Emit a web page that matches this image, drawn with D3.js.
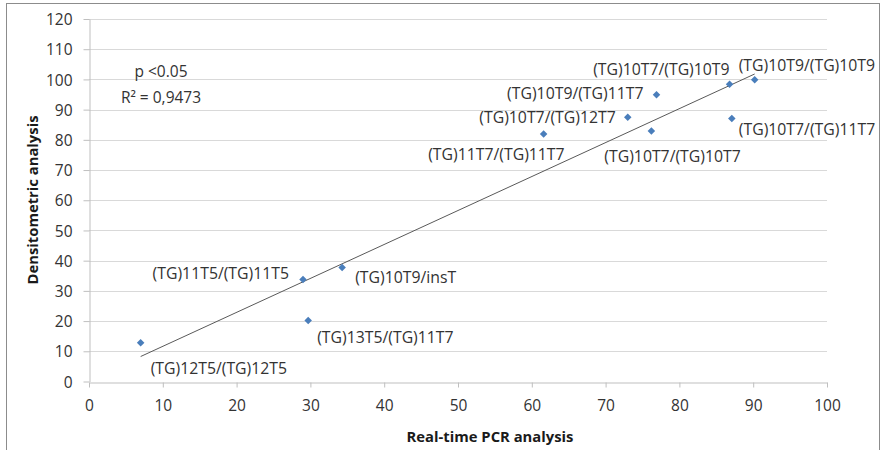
<!DOCTYPE html>
<html>
<head>
<meta charset="utf-8">
<script src="https://cdn.jsdelivr.net/npm/d3@7"></script>
<style>
  body { margin: 0; background: #fff; }
  text { font-family: "Open Sans", sans-serif; }
</style>
</head>
<body>
<div id="chart"></div>
<script>
var genotypes = [
  "(TG)12T5/(TG)12T5", "(TG)11T5/(TG)11T5", "(TG)13T5/(TG)11T7", "(TG)10T9/insT",
  "(TG)11T7/(TG)11T7", "(TG)10T7/(TG)12T7", "(TG)10T7/(TG)10T7", "(TG)10T9/(TG)11T7",
  "(TG)10T7/(TG)10T9", "(TG)10T7/(TG)11T7", "(TG)10T9/(TG)10T9"
];
var pcrValues = [7.0, 29.0, 29.7, 34.3, 61.6, 73.0, 76.2, 76.9, 86.8, 87.1, 90.2];
var densValues = [12.8, 33.8, 20.2, 37.7, 81.9, 87.5, 82.9, 94.9, 98.4, 87.1, 99.9];

var xTicks = [0, 10, 20, 30, 40, 50, 60, 70, 80, 90, 100];
var yTicks = [0, 10, 20, 30, 40, 50, 60, 70, 80, 90, 100, 110, 120];

// where each label sits relative to its point: anchor, dx, dy
var labelLayout = [
  ["start", 10, 25], ["end", -14, -6], ["start", 9, 17], ["start", 13, 10],
  ["end", 21, 20], ["end", -12, 0], ["start", -47, 25], ["end", -13, -2],
  ["end", 0, -15], ["start", 7, 11], ["start", -16, -14]
];

var data = genotypes.map(function(g, i) {
  return { name: g, x: pcrValues[i], y: densValues[i] };
});

var W = 885, H = 450;
var svg = d3.select("#chart").append("svg")
  .attr("width", W)
  .attr("height", H);

// outer frame
svg.append("rect")
  .attr("x", 6.5).attr("y", 3.5)
  .attr("width", 873).attr("height", 460)
  .attr("fill", "none")
  .attr("stroke", "#8c8c8c");

var x = d3.scaleLinear().domain([0, 100]).range([89, 827]);
var y = d3.scaleLinear().domain([0, 120]).range([381.5, 19]);

// horizontal gridlines
svg.append("g")
  .selectAll("line")
  .data(yTicks.slice(1))
  .enter().append("line")
    .attr("x1", x(0)).attr("x2", x(100))
    .attr("y1", function(d) { return Math.round(y(d)) + 0.5; })
    .attr("y2", function(d) { return Math.round(y(d)) + 0.5; })
    .attr("stroke", "#d9d9d9");

// X axis
var xAxis = svg.append("g")
  .attr("transform", "translate(0," + (Math.round(y(0)) + 0.5) + ")")
  .call(d3.axisBottom(x).tickValues(xTicks).tickSize(5).tickSizeOuter(0).tickPadding(12));

// Y axis
var yAxis = svg.append("g")
  .attr("transform", "translate(" + (Math.round(x(0)) + 0.5) + ",0)")
  .call(d3.axisLeft(y).tickValues(yTicks).tickSize(6).tickSizeOuter(0).tickPadding(11));

[xAxis, yAxis].forEach(function(a) {
  a.select(".domain").attr("stroke", "#bfbfbf");
  a.selectAll(".tick line").attr("stroke", "#bfbfbf");
  a.selectAll(".tick text")
    .attr("fill", "#333333")
    .style("font-size", "15.5px")
    .style("font-family", "Open Sans, sans-serif");
});
yAxis.selectAll(".tick text").attr("dy", "0.36em");

// linear trend line (least squares over the points)
var mx = d3.mean(pcrValues), my = d3.mean(densValues);
var sxy = d3.sum(data, function(d) { return (d.x - mx) * (d.y - my); });
var sxx = d3.sum(data, function(d) { return (d.x - mx) * (d.x - mx); });
var slope = sxy / sxx, intercept = my - slope * mx;
var xr = d3.extent(pcrValues);

svg.append("line")
  .attr("x1", x(xr[0])).attr("y1", y(intercept + slope * xr[0]))
  .attr("x2", x(xr[1])).attr("y2", y(intercept + slope * xr[1]))
  .attr("stroke", "#595959")
  .attr("stroke-width", 1);

// diamond markers
svg.append("g")
  .selectAll("path")
  .data(data)
  .enter().append("path")
    .attr("d", d3.symbol().type(d3.symbolDiamond2).size(36))
    .attr("transform", function(d) { return "translate(" + x(d.x) + "," + y(d.y) + ")"; })
    .attr("fill", "#4a7ebb");

// point labels
svg.append("g")
  .selectAll("text")
  .data(data)
  .enter().append("text")
    .attr("x", function(d, i) { return x(d.x) + labelLayout[i][1]; })
    .attr("y", function(d, i) { return y(d.y) + labelLayout[i][2]; })
    .attr("dy", "0.36em")
    .attr("text-anchor", function(d, i) { return labelLayout[i][0]; })
    .attr("fill", "#333333")
    .style("font-size", "15.8px")
    .text(function(d) { return d.name; });

// stats annotation
svg.append("text")
  .attr("x", 161).attr("y", 71).attr("dy", "0.36em")
  .attr("text-anchor", "middle")
  .attr("fill", "#333333")
  .style("font-size", "15.5px")
  .text("p <0.05");

svg.append("text")
  .attr("x", 161).attr("y", 97).attr("dy", "0.36em")
  .attr("text-anchor", "middle")
  .attr("fill", "#333333")
  .style("font-size", "15.5px")
  .text("R² = 0,9473");

// axis titles
svg.append("text")
  .attr("x", 490).attr("y", 437).attr("dy", "0.36em")
  .attr("text-anchor", "middle")
  .attr("fill", "#1a1a1a")
  .style("font-size", "14.8px")
  .style("font-weight", "bold")
  .text("Real-time PCR analysis");

svg.append("text")
  .attr("transform", "translate(33,200) rotate(-90)")
  .attr("dy", "0.36em")
  .attr("text-anchor", "middle")
  .attr("fill", "#1a1a1a")
  .style("font-size", "14.8px")
  .style("font-weight", "bold")
  .text("Densitometric analysis");
</script>
</body>
</html>
